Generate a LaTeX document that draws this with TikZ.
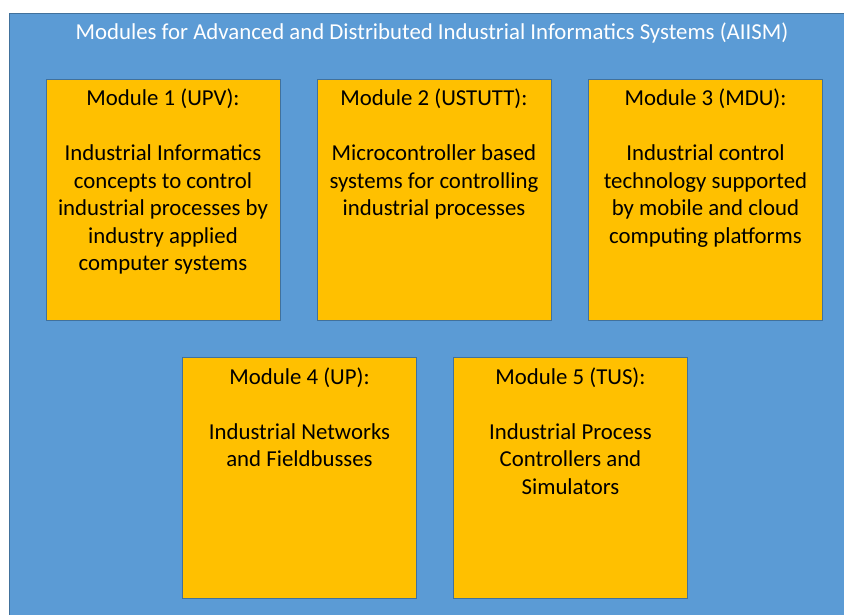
\documentclass[tikz,border=0pt]{standalone}
\usepackage{fontspec}
\setmainfont{Carlito}
\usetikzlibrary{calc}
\definecolor{bluefill}{HTML}{5B9BD5}
\definecolor{blueline}{HTML}{41719C}
\definecolor{orangefill}{HTML}{FFC000}
\begin{document}
\begin{tikzpicture}[x=1pt,y=-1pt,
  frame/.style={draw=blueline, line width=1pt, fill=bluefill},
  modbox/.style={draw=blueline, line width=0.8pt, fill=orangefill, minimum width=234pt, minimum height=241pt, inner sep=0pt},
  modtext/.style={anchor=north, align=center, inner sep=0pt, font=\fontsize{22.8}{27.5}\selectfont},
  titletext/.style={anchor=base, inner sep=0pt, text=white, font=\fontsize{22.8}{27.5}\selectfont}]
\useasboundingbox (0,0) rectangle (844,615);
\clip (0,0) rectangle (844,615);
\fill[white] (0,0) rectangle (844,615);
\path[frame] (9,14) rectangle (850,620);
\node[titletext] (title) at (432,40) {Modules for Advanced and Distributed Industrial Informatics Systems (AIISM)};
\node[modbox] (m1) at (163,199.5) {};
\node[modbox] (m2) at (434,199.5) {};
\node[modbox] (m3) at (705.5,199.5) {};
\node[modbox] (m4) at (299.5,478) {};
\node[modbox] (m5) at (570.5,478) {};
\node[modtext] (t1) at ($(m1.north)+(0,7.75)$) {\strut Module 1 (UPV):\\[27.5pt]Industrial Informatics\\concepts to control\\industrial processes by\\industry applied\\computer systems};
\node[modtext] (t2) at ($(m2.north)+(0,7.75)$) {\strut Module 2 (USTUTT):\\[27.5pt]Microcontroller based\\systems for controlling\\industrial processes};
\node[modtext] (t3) at ($(m3.north)+(0,7.75)$) {\strut Module 3 (MDU):\\[27.5pt]Industrial control\\technology supported\\by mobile and cloud\\computing platforms};
\node[modtext] (t4) at ($(m4.north)+(0,7.75)$) {\strut Module 4 (UP):\\[27.5pt]Industrial Networks\\and Fieldbusses};
\node[modtext] (t5) at ($(m5.north)+(0,7.75)$) {\strut Module 5 (TUS):\\[27.5pt]Industrial Process\\Controllers and\\Simulators};
\end{tikzpicture}
\end{document}
